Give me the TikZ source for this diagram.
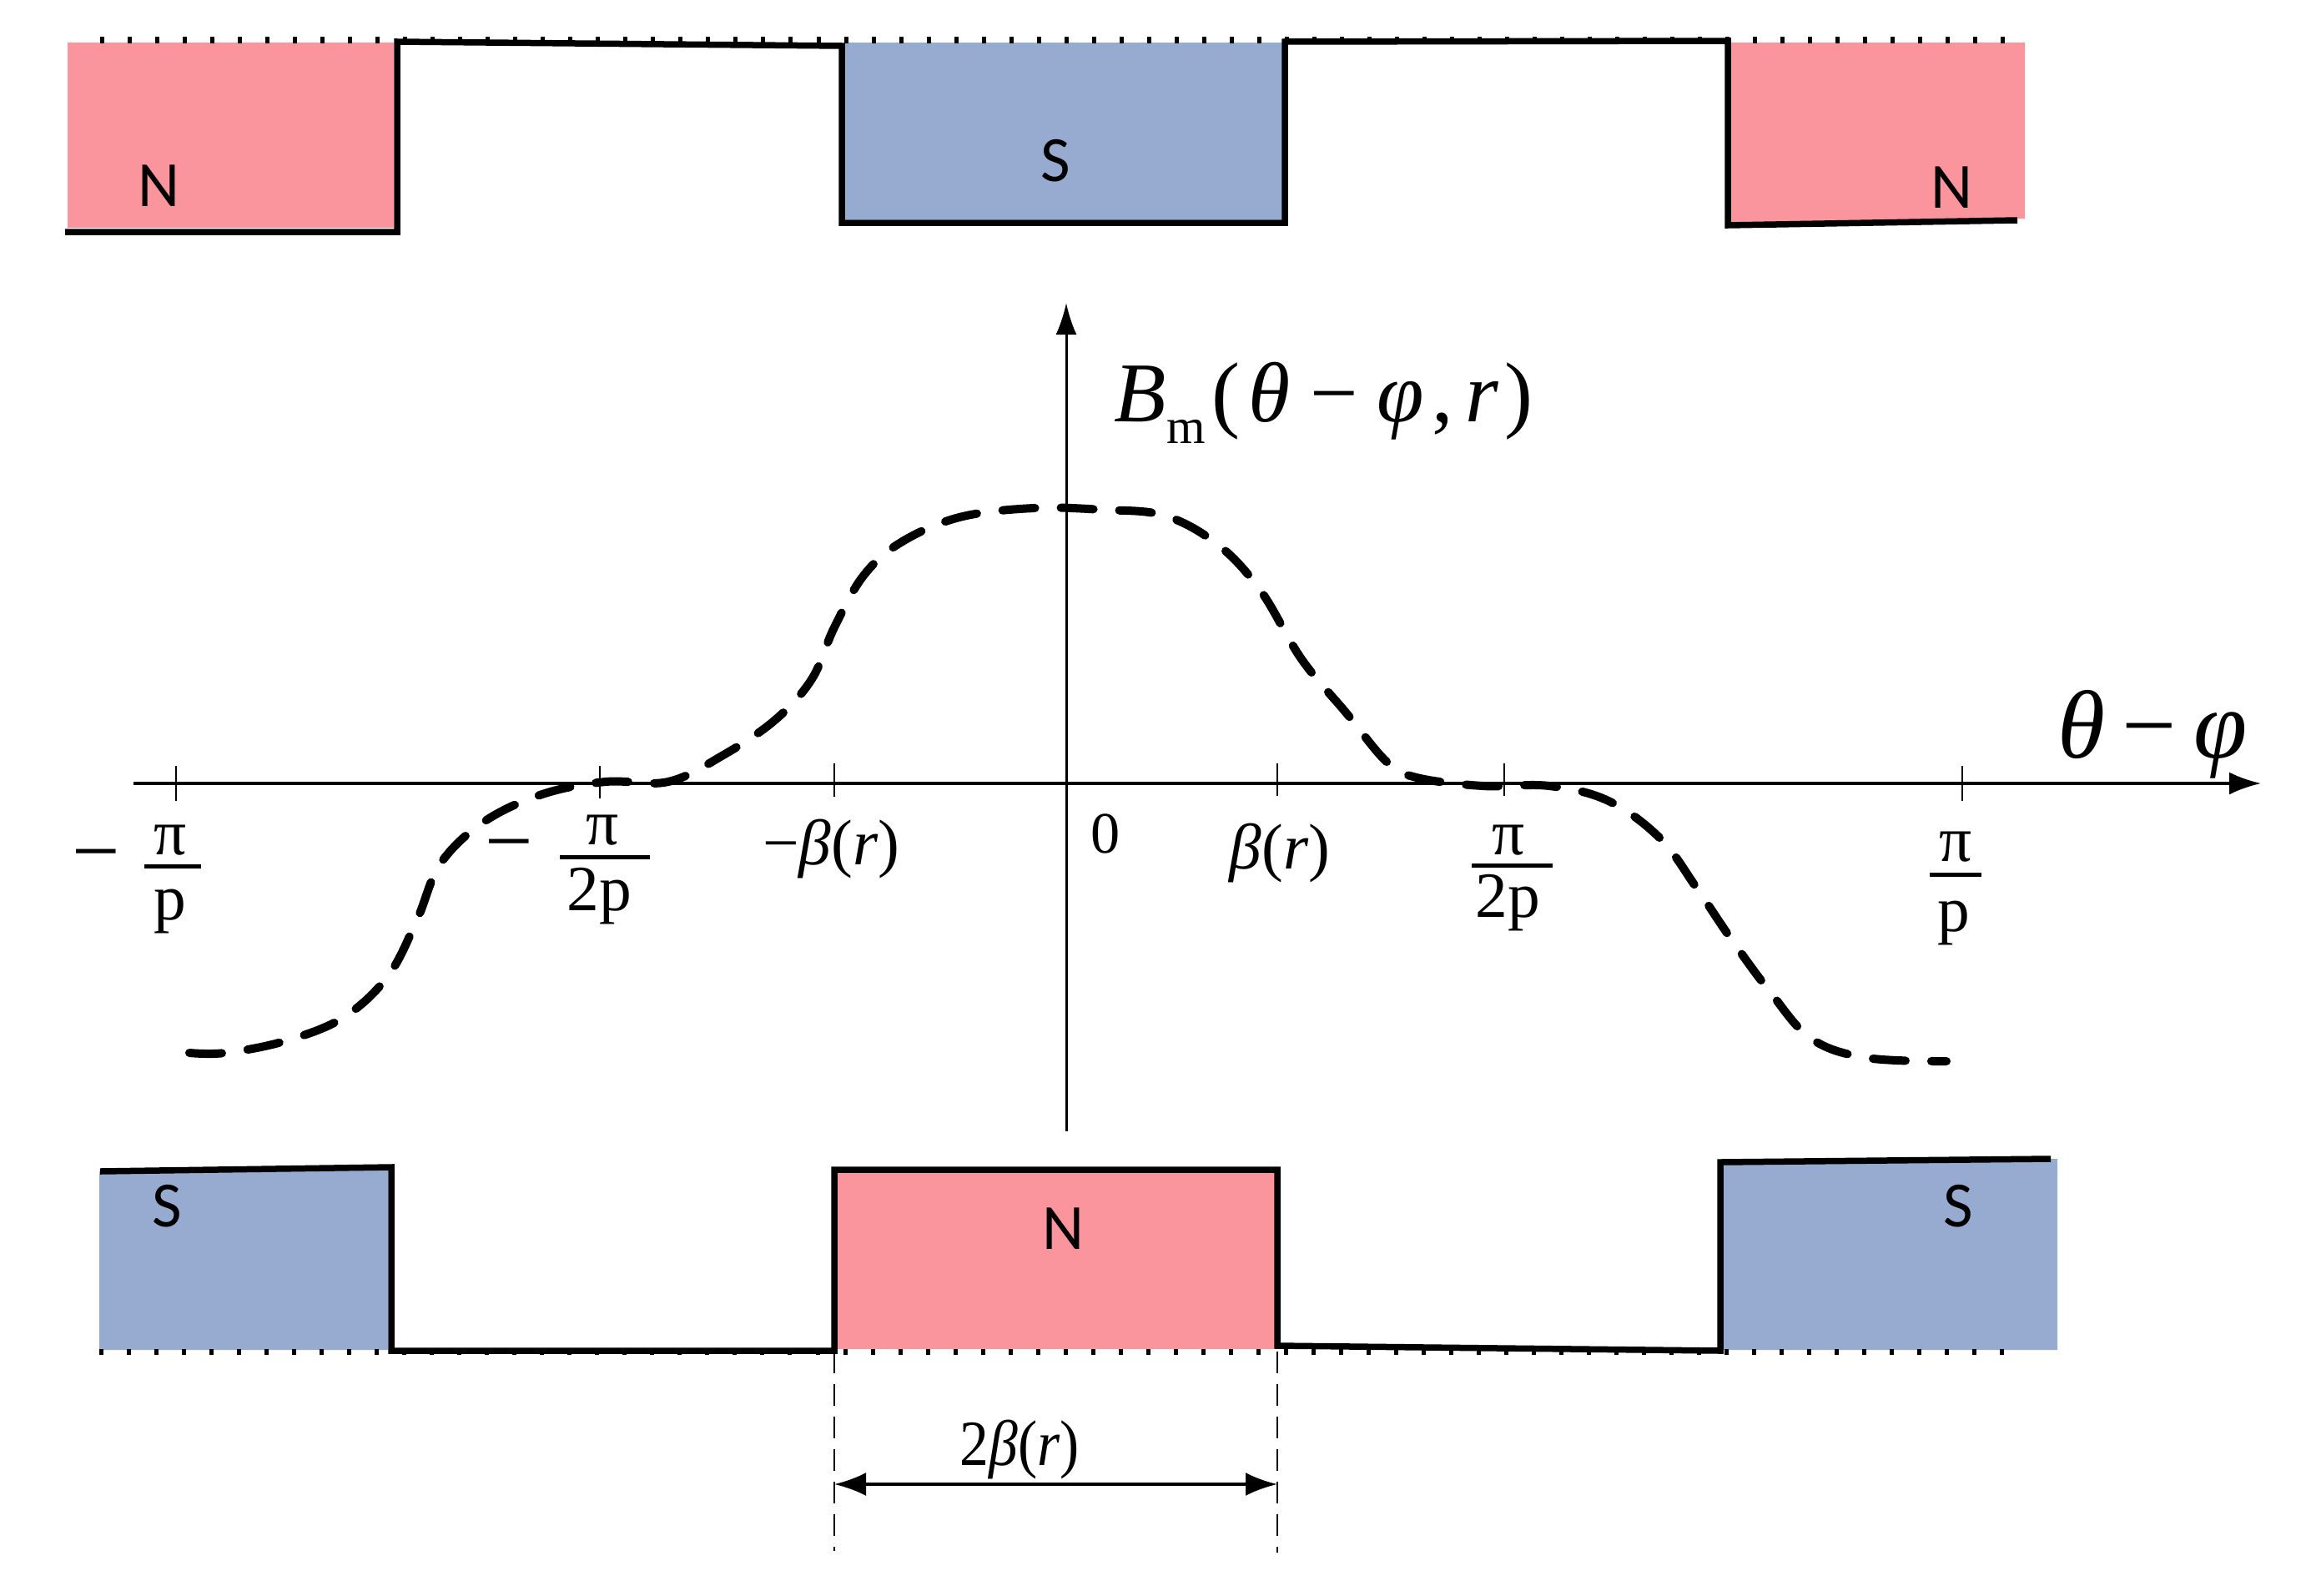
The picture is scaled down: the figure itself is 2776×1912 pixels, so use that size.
\documentclass[tikz,border=0pt]{standalone}
\usepackage{fontspec}
\setmainfont{Liberation Serif}
\newfontfamily\polefont{Carlito}
\usetikzlibrary{arrows.meta}

\definecolor{northpink}{HTML}{FA959D}
\definecolor{southblue}{HTML}{97AACF}

\newcommand{\fsize}[1]{\fontsize{#1}{#1}\selectfont}

\tikzstyle{polelabel} = [font=\polefont\fsize{22}, inner sep=0pt]
\tikzstyle{ticklabel} = [font=\fsize{22}, inner sep=0pt]
\tikzstyle{betalabel} = [font=\fsize{22}, inner sep=0pt]
\tikzstyle{ironline} = [line width=0.075cm]
\tikzstyle{rimdots} = [line width=0.07cm, dash pattern=on 0.05cm off 0.28cm]
\tikzstyle{axisline} = [line width=0.035cm]
\tikzstyle{tickline} = [line width=0.018cm]
\tikzstyle{fracbar} = [line width=0.05cm]
\tikzstyle{fluxline} = [line width=0.1cm, line cap=round, dash pattern=on 0.39cm off 0.31cm]
\tikzstyle{guideline} = [line width=0.02cm, dash pattern=on 0.26cm off 0.13cm]

\begin{document}
\begin{tikzpicture}[x=0.01cm,y=-0.01cm]
	\useasboundingbox (0,0) rectangle (2776,1912);

	% upper magnets
	\fill[northpink] (81,51) rectangle (472,273);
	\fill[southblue] (1013,51) rectangle (1540,263);
	\fill[northpink] (2075,51) -- (2427,51) -- (2427,262) -- (2075,267) -- cycle;
	\draw[ironline] (78,278) -- (476,278) -- (476,50) -- (1009,55) -- (1009,267)
		-- (1540,267) -- (1540,50) -- (2071,49) -- (2071,270) -- (2418,264);
	\draw[rimdots] (120,48) -- (2425,48);

	% lower magnets
	\fill[southblue] (119,1404) -- (465,1399) -- (465,1618) -- (119,1618) -- cycle;
	\fill[northpink] (1003,1406) rectangle (1528,1617);
	\fill[southblue] (2066,1393) -- (2466,1389) -- (2466,1618) -- (2066,1618) -- cycle;
	\draw[ironline] (120,1404) -- (469,1399) -- (469,1619) -- (1000,1619) -- (1000,1402)
		-- (1531,1402) -- (1531,1613) -- (2062,1619) -- (2062,1393) -- (2458,1389);
	\draw[rimdots] (119,1620) -- (2425,1620);

	\node[polelabel] (n1) at (190,223) {N};
	\node[polelabel] (s1) at (1265,193) {S};
	\node[polelabel] (n2) at (2339,225) {N};
	\node[polelabel] (s2) at (200,1446) {S};
	\node[polelabel] (n3) at (1274,1473) {N};
	\node[polelabel] (s3) at (2347,1446) {S};

	% axes
	\coordinate (xstart) at (160,939);
	\coordinate (xend) at (2710,939);
	\coordinate (ystart) at (1278,1356);
	\coordinate (yend) at (1278,363);
	\draw[axisline,->,>={Latex[length=0.38cm,width=0.27cm]}] (xstart) -- (xend);
	\draw[axisline,line width=0.03cm,->,>={Latex[length=0.38cm,width=0.25cm]}] (ystart) -- (yend);

	\draw[tickline] (211,918) -- (211,960);
	\draw[tickline] (719,918) -- (719,957);
	\draw[tickline] (1000,915) -- (1000,955);
	\draw[tickline] (1531,915) -- (1531,954);
	\draw[tickline] (1803,915) -- (1803,954);
	\draw[tickline] (2352,918) -- (2352,960);

	% flux density curve
	\draw[fluxline] plot[smooth,tension=0.6] coordinates {
		(227,1262) (270,1262) (341,1248) (411,1220) (465,1170) (500,1102) (528,1035)
		(580,985) (650,952) (726,937) (801,937) (867,905) (929,863) (973,814)
		(1000,752) (1035,690) (1080,650) (1150,620) (1239,609) (1322,611) (1396,618)
		(1460,653) (1511,708) (1560,790) (1614,855) (1662,913) (1698,932) (1777,942)
		(1857,942) (1928,960) (1990,1005) (2034,1065) (2076,1127) (2121,1188)
		(2171,1245) (2238,1268) (2333,1272)};

	% axis names
	\node[anchor=base west,inner sep=0pt,font=\fsize{29}] (fieldname) at (1335,505)
		{\itshape B\raisebox{-0.26cm}{\upshape\fsize{17}m}\hspace{0.08cm}\upshape(\hspace{0.1cm}\itshape θ\hspace{0.24cm}\upshape−\hspace{0.22cm}\itshape φ\hspace{0.1cm}\upshape,\hspace{0.14cm}\itshape r\hspace{0.08cm}\upshape)};
	\node[anchor=base west,inner sep=0pt,font=\fsize{33}] (anglename) at (2466,908)
		{\itshape θ\hspace{0.2cm}\upshape−\hspace{0.2cm}\itshape φ};

	% tick labels
	\node[ticklabel,font=\fsize{20}] (zero) at (1325,999) {0};
	\node[betalabel] (minusbeta) at (996,1017) {−\itshape β\upshape(\itshape r\upshape)};
	\node[betalabel] (plusbeta) at (1534,1022) {\itshape β\upshape(\itshape r\upshape)};

	\node[ticklabel,font=\fsize{29}] (m1) at (115,1036) {−};
	\node[ticklabel] (p1) at (204,1007) {π};
	\node[ticklabel] (q1) at (204,1092) {p};
	\draw[fracbar] (173,1038) -- (241,1038);

	\node[ticklabel,font=\fsize{29}] (m2) at (610,1024) {−};
	\node[ticklabel] (p2) at (722,995) {π};
	\node[ticklabel] (q2) at (718,1074) {2p};
	\draw[fracbar] (671,1027) -- (779,1027);

	\node[ticklabel] (p3) at (1808,1007) {π};
	\node[ticklabel] (q3) at (1807,1082) {2p};
	\draw[fracbar] (1764,1037) -- (1861,1037);

	\node[ticklabel] (p4) at (2344,1015) {π};
	\node[ticklabel] (q4) at (2342,1106) {p};
	\draw[fracbar] (2313,1048) -- (2375,1048);

	% width of the pole
	\coordinate (gl1) at (1000,1620);
	\coordinate (gl2) at (1000,1859);
	\coordinate (gr1) at (1531,1620);
	\coordinate (gr2) at (1531,1861);
	\coordinate (wl) at (1000,1779);
	\coordinate (wr) at (1531,1779);
	\draw[guideline] (gl1) -- (gl2);
	\draw[guideline] (gr1) -- (gr2);
	\draw[line width=0.035cm,<->,>={Latex[length=0.38cm,width=0.28cm]}] (wl) -- (wr);
	\node[ticklabel,xscale=0.9] (width) at (1222,1737) {2\itshape β\upshape(\itshape r\upshape)};
\end{tikzpicture}
\end{document}
